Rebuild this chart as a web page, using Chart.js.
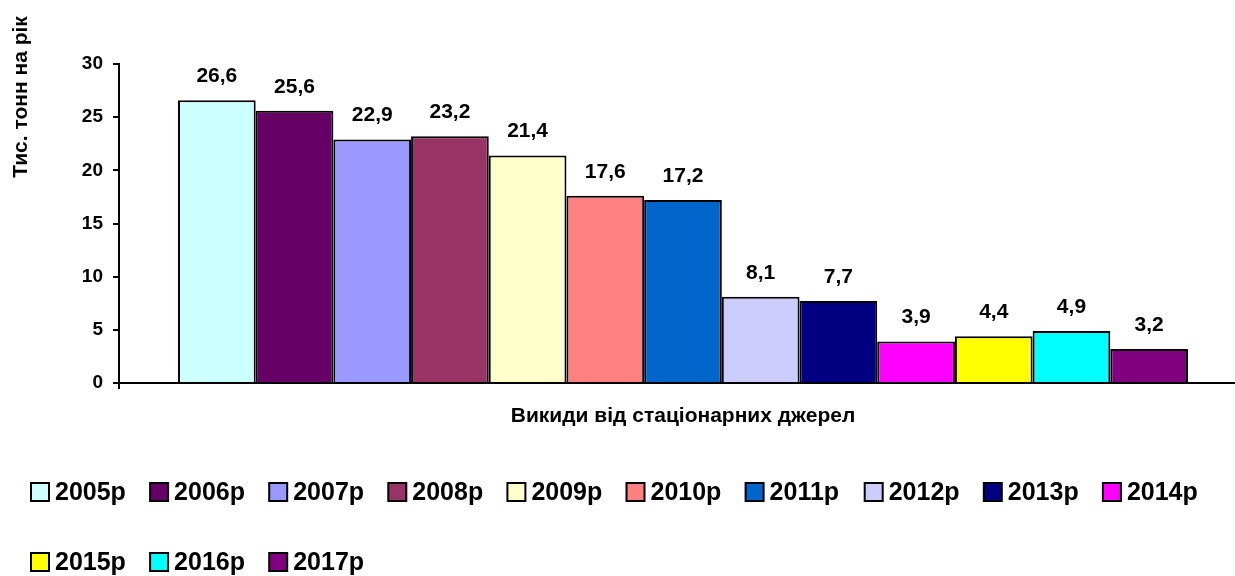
<!DOCTYPE html>
<html>
<head>
<meta charset="utf-8">
<script src="https://cdn.jsdelivr.net/npm/chart.js@4"></script>
<style>
  html, body { margin: 0; padding: 0; background: #ffffff; overflow: hidden; }
</style>
</head>
<body>
<canvas id="emissionsChart" width="1248" height="576"></canvas>
<script>
var categories = ["Викиди від стаціонарних джерел"];
var years = ["2005р", "2006р", "2007р", "2008р", "2009р", "2010р", "2011р",
             "2012р", "2013р", "2014р", "2015р", "2016р", "2017р"];
var values = [26.6, 25.6, 22.9, 23.2, 21.4, 17.6, 17.2, 8.1, 7.7, 3.9, 4.4, 4.9, 3.2];
var colors = ["#CCFFFF", "#660066", "#9999FF", "#993366", "#FFFFCC", "#FF8080", "#0066CC",
              "#CCCCFF", "#000080", "#FF00FF", "#FFFF00", "#00FFFF", "#800080"];
var yMin = 0;
var yMax = 30;
var yStep = 5;
var yTitle = "Тис. тонн на рік";

var FONT = "'Liberation Sans', Arial, sans-serif";

// value labels above each bar, comma as decimal separator
var valueLabels = {
  id: "valueLabels",
  afterDatasetsDraw: function (chart) {
    var ctx = chart.ctx;
    ctx.save();
    ctx.font = "bold 21px " + FONT;
    ctx.fillStyle = "#000000";
    ctx.textAlign = "center";
    ctx.textBaseline = "middle";
    chart.data.datasets.forEach(function (ds, i) {
      chart.getDatasetMeta(i).data.forEach(function (bar, j) {
        var txt = ds.data[j].toFixed(1).replace(".", ",");
        ctx.fillText(txt, bar.x, bar.y - 24);
      });
    });
    ctx.restore();
  }
};

// rotated y title near the top left
var yTitlePlugin = {
  id: "yTitle",
  afterDraw: function (chart) {
    var ctx = chart.ctx;
    ctx.save();
    ctx.translate(21, 97);
    ctx.rotate(-Math.PI / 2);
    ctx.font = "bold 21px " + FONT;
    ctx.fillStyle = "#000000";
    ctx.textAlign = "center";
    ctx.textBaseline = "middle";
    ctx.fillText(yTitle, 0, 0);
    ctx.restore();
  }
};

// legend in rows of ten, square boxes
var bottomLegend = {
  id: "bottomLegend",
  afterDraw: function (chart) {
    var ctx = chart.ctx;
    ctx.save();
    ctx.font = "bold 25px " + FONT;
    ctx.textBaseline = "middle";
    ctx.textAlign = "left";
    chart.data.datasets.forEach(function (ds, i) {
      var row = Math.floor(i / 10);
      var col = i % 10;
      var x = 31 + col * 119.1;
      var y = 492 + row * 70;
      ctx.fillStyle = ds.backgroundColor;
      ctx.fillRect(x, y - 9, 18, 18);
      ctx.lineWidth = 2;
      ctx.strokeStyle = "#000000";
      ctx.strokeRect(x, y - 9, 18, 18);
      ctx.fillStyle = "#000000";
      ctx.fillText(ds.label, x + 24, y + 1);
    });
    ctx.restore();
  }
};

new Chart(document.getElementById("emissionsChart"), {
  type: "bar",
  data: {
    labels: categories,
    datasets: years.map(function (year, i) {
      return {
        label: year,
        data: [values[i]],
        backgroundColor: colors[i],
        borderColor: "#000000",
        borderWidth: 2,
        categoryPercentage: 0.8954,
        barPercentage: 1.0
      };
    })
  },
  options: {
    responsive: false,
    animation: false,
    layout: {
      padding: { left: 0, right: 1, top: 64, bottom: 133 }
    },
    plugins: {
      legend: { display: false },
      title: { display: false },
      tooltip: { enabled: false }
    },
    scales: {
      x: {
        offset: true,
        grid: {
          display: true,
          offset: true,
          drawOnChartArea: false,
          drawTicks: true,
          tickLength: 6,
          color: "#000000",
          lineWidth: 2
        },
        border: { display: true, color: "#000000", width: 2 },
        ticks: {
          color: "#000000",
          font: { family: FONT, size: 21, weight: "bold" },
          padding: 15
        },
        afterFit: function (scale) { scale.height = 60; }
      },
      y: {
        min: yMin,
        max: yMax,
        grid: {
          display: true,
          drawOnChartArea: false,
          drawTicks: true,
          tickLength: 6,
          color: "#000000",
          lineWidth: 2
        },
        border: { display: true, color: "#000000", width: 2 },
        ticks: {
          stepSize: yStep,
          color: "#000000",
          font: { family: FONT, size: 19, weight: "bold" },
          padding: 10
        },
        afterFit: function (scale) { scale.width = 119; }
      }
    }
  },
  plugins: [valueLabels, yTitlePlugin, bottomLegend]
});
</script>
</body>
</html>
